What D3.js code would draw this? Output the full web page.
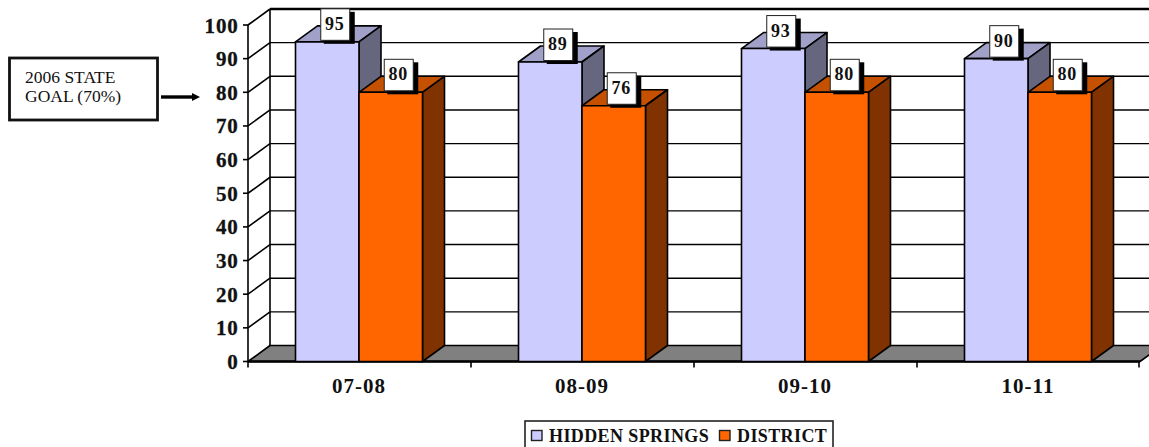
<!DOCTYPE html>
<html><head><meta charset="utf-8">
<script src="https://cdn.jsdelivr.net/npm/d3@7"></script>
<style>html,body{margin:0;padding:0;background:#fff;overflow:hidden}svg{display:block}text{font-family:"Liberation Serif",serif;fill:#111}</style>
</head><body><svg id="c" width="1149" height="447"></svg>
<script>
const categories = ["07-08","08-09","09-10","10-11"];
const hiddenSprings = [95,89,93,90];
const district = [80,76,80,80];
const seriesNames = ["HIDDEN SPRINGS","DISTRICT"];
const yTicks = [0,10,20,30,40,50,60,70,80,90,100];
const noteLines = ["2006 STATE","GOAL (70%)"];

const svg = d3.select("#c");
const y = d3.scaleLinear().domain([0,100]).range([361.5,25]);
const x0 = d3.scaleBand().domain(categories).range([248,1140]);
const x1 = d3.scaleBand().domain(seriesNames).range([47.5,174.5]);
const dx = 22, dy = -16;
const pal = {
  [seriesNames[0]]: {front:"#ccccff", top:"#a0a0c8", side:"#66667f"},
  [seriesNames[1]]: {front:"#ff6600", top:"#c45000", side:"#803300"}
};
const line = (g,a,b,c,d,w=1.6)=>g.append("line").attr("x1",a).attr("y1",b).attr("x2",c).attr("y2",d).attr("stroke","#000").attr("stroke-width",w);
const poly = (g,p,f)=>g.append("polygon").attr("points",p.map(q=>q.join(",")).join(" ")).attr("fill",f).attr("stroke","#000").attr("stroke-width",1.6).attr("stroke-linejoin","round");

// walls & grid
const xL = x0.range()[0], xR = x0.range()[1];
const wall = svg.append("g");
yTicks.filter(t=>t>0).forEach(t=>{
  line(wall,xL,y(t),xL+dx,y(t)+dy);
  line(wall,xL+dx,y(t)+dy,1149,y(t)+dy,t===100?2.6:1.4);
  line(wall,xL-5,y(t),xL,y(t));
});
line(wall,xL+dx,y(0)+dy,xL+dx,y(100)+dy);
poly(wall,[[xL,y(0)],[xL+dx,y(0)+dy],[xR+dx,y(0)+dy],[xR,y(0)]],"#808080");
line(wall,xL,y(0),xL,y(100));
line(wall,xL,y(0),xR,y(0),2.4);
line(wall,xL-5,y(0),xL,y(0));
x0.domain().forEach(c=>line(wall,x0(c),y(0),x0(c),y(0)+6));
line(wall,xR-1,y(0),xR-1,y(0)+6);

// bars
const bars = svg.append("g");
const rows = categories.map((c,i)=>({c,vals:[hiddenSprings[i],district[i]]}));
rows.forEach(r=>{
  seriesNames.forEach((s,j)=>{
    const l = x0(r.c)+x1(s), w = x1.bandwidth(), b = y(0), t = y(r.vals[j]), p = pal[s];
    poly(bars,[[l,t],[l+dx,t+dy],[l+w+dx,t+dy],[l+w,t]],p.top);
    poly(bars,[[l+w,t],[l+w+dx,t+dy],[l+w+dx,b+dy],[l+w,b]],p.side);
    poly(bars,[[l,t],[l+w,t],[l+w,b],[l,b]],p.front);
  });
});
// data labels
const labels = svg.append("g");
rows.forEach(r=>{
  seriesNames.forEach((s,j)=>{
    const cx = x0(r.c)+x1(s)+x1.bandwidth()/2+7.5, t = y(r.vals[j]);
    labels.append("rect").attr("x",cx-11).attr("y",t-30).attr("width",31).attr("height",32).attr("fill","#000");
    labels.append("rect").attr("x",cx-14).attr("y",t-33).attr("width",29).attr("height",31.5).attr("fill","#fff").attr("stroke","#222").attr("stroke-width",1);
    labels.append("text").attr("x",cx).attr("y",t-12).attr("text-anchor","middle").attr("font-size",18).attr("letter-spacing",0.8).attr("font-weight","bold").text(r.vals[j]);
  });
});
// axis labels
svg.append("g").selectAll("text").data(yTicks).join("text")
  .attr("x",238.5).attr("y",d=>y(d)+7.5).attr("text-anchor","end").attr("font-size",21).attr("letter-spacing",0.8).attr("font-weight","bold").attr("stroke","#111").attr("stroke-width",0.3).text(d=>d);
svg.append("g").selectAll("text").data(categories).join("text")
  .attr("x",c=>x0(c)+x0.bandwidth()/2-0.5).attr("y",392.5).attr("text-anchor","middle").attr("font-size",21).attr("letter-spacing",1).attr("font-weight","bold").text(c=>c);
// note box + arrow
svg.append("rect").attr("x",9.5).attr("y",58).attr("width",148).attr("height",62).attr("fill","#fff").attr("stroke","#111").attr("stroke-width",2.8);
noteLines.forEach((t,i)=>svg.append("text").attr("x",25).attr("y",82.5+i*19).attr("font-size",17.5).text(t));
line(svg,161,97,193,97,3.4);
svg.append("polygon").attr("points","192,93 200,97 192,101").attr("fill","#000");
// legend
svg.append("rect").attr("x",525).attr("y",421).attr("width",308).attr("height",32).attr("fill","#fff").attr("stroke","#222").attr("stroke-width",1.6);
const lx = [531.5,719.5], tx = [549,737];
seriesNames.forEach((s,i)=>{
  svg.append("rect").attr("x",lx[i]).attr("y",430.5).attr("width",10.5).attr("height",10).attr("fill",pal[s].front).attr("stroke","#222").attr("stroke-width",1.4);
  svg.append("text").attr("x",tx[i]).attr("y",442).attr("font-size",18).attr("letter-spacing",0.4).attr("font-weight","bold").text(s);
});
</script></body></html>
